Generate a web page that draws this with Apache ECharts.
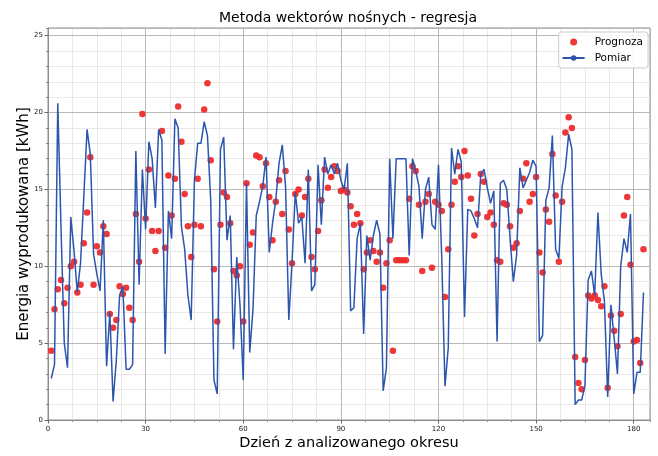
<!DOCTYPE html>
<html><head><meta charset="utf-8">
<script src="https://cdn.jsdelivr.net/npm/echarts@6/dist/echarts.min.js"></script>
<style>html,body{margin:0;padding:0;background:#fff}#c{width:658px;height:456px}</style>
</head><body><div id="c"></div>
<script>
// Day numbers run 1..N (index + 1)
const prognoza = [
 4.5,7.2,8.5,9.1,7.6,8.6,10.0,10.3,8.3,8.8,
 11.5,13.5,17.1,8.8,11.3,10.9,12.6,12.1,6.9,6.0,
 6.5,8.7,8.2,8.6,7.3,6.5,13.4,10.3,19.9,13.1,
 16.3,12.3,11.0,12.3,18.8,11.2,15.9,13.3,15.7,20.4,
 18.1,14.7,12.6,10.6,12.7,15.7,12.6,20.2,21.9,16.9,
 9.8,6.4,12.7,14.8,14.5,12.8,9.7,9.4,10.0,6.4,
 15.4,11.4,12.2,17.2,17.1,15.2,16.7,14.5,11.7,14.2,
 15.6,13.4,16.2,12.4,10.2,14.7,15.0,13.3,14.5,15.7,
 10.6,9.8,12.3,14.3,16.3,15.1,15.8,16.5,16.2,14.9,
 15.0,14.8,13.9,12.7,13.4,12.8,9.8,10.9,11.7,11.0,
 10.3,10.9,8.6,10.2,11.7,4.5,10.4,10.4,10.4,10.4,
 14.4,16.5,16.2,14.0,9.7,14.2,14.7,9.9,14.2,14.0,
 13.6,8.0,11.1,14.0,15.5,16.5,15.8,17.5,15.9,14.4,
 12.0,13.4,16.0,15.5,13.2,13.5,12.7,10.4,10.3,14.1,
 14.0,12.6,11.2,11.5,13.6,15.7,16.7,14.2,14.7,15.8,
 10.9,9.6,13.7,12.9,17.3,14.6,10.3,14.2,18.7,19.7,
 19.0,4.1,2.4,2.0,3.9,8.1,7.9,8.1,7.8,7.4,
 8.7,2.1,6.8,5.8,4.8,6.9,13.3,14.5,10.1,5.1,
 5.2,3.7,11.1
];
const pomiar = [
 2.7,3.6,20.6,12.5,5.0,3.4,13.2,11.0,8.3,10.2,
 14.5,18.9,17.3,10.8,9.5,8.4,13.0,3.5,7.0,1.2,
 3.9,8.1,8.7,3.3,3.3,3.6,17.5,8.8,16.3,12.4,
 18.1,17.0,13.8,18.9,18.2,4.3,13.6,11.8,19.6,19.0,
 12.6,11.1,8.1,6.5,15.6,18.0,18.0,19.4,18.5,14.3,
 2.6,1.7,17.6,18.4,11.7,13.3,4.6,10.6,7.5,2.6,
 15.4,4.4,7.2,13.3,14.2,15.2,17.1,10.9,12.8,14.3,
 16.7,17.9,15.2,6.5,10.3,14.8,12.8,13.2,10.2,16.3,
 8.4,8.8,16.6,12.7,17.1,16.0,16.6,16.0,16.7,15.6,
 15.0,16.7,7.1,7.3,11.8,12.8,5.6,12.0,10.4,12.0,
 13.0,12.1,1.9,3.4,17.0,11.8,17.0,17.0,17.0,17.0,
 10.7,17.0,16.2,15.2,11.8,15.0,15.8,12.7,12.4,16.6,
 10.6,2.2,4.7,17.7,16.0,17.6,16.8,6.7,13.7,13.6,
 13.1,12.5,16.0,16.3,15.1,14.1,14.9,5.1,15.4,15.6,
 15.0,11.8,9.0,10.7,16.4,15.1,15.6,16.1,16.9,16.5,
 5.1,5.5,14.3,15.1,18.5,11.1,10.5,15.2,16.4,18.6,
 17.6,1.0,1.3,1.3,2.2,9.1,9.7,8.1,13.5,9.5,
 7.7,1.5,7.5,5.3,3.0,10.0,11.8,10.9,13.4,1.7,
 3.1,3.1,8.3
];
const xTickStep = 30, xMinorStep = 7.5;
const yTickStep = 5, yMinorStep = 1;
const xMax = 185, yMax = 25.5;

const FONT = 'DejaVu Sans';
const chart = echarts.init(document.getElementById('c'), null, {renderer: 'canvas'});
const gridLine = '#b8b8b8', minorLine = '#e8e8e8', frame = '#8c8c8c';

chart.setOption({
  animation: false,
  backgroundColor: '#fff',
  title: {
    text: 'Metoda wektorów nośnych - regresja',
    left: 214, top: 6,
    textStyle: {fontFamily: FONT, fontSize: 14, fontWeight: 'normal', color: '#000'}
  },
  legend: {
    orient: 'vertical', right: 10, top: 32,
    padding: [3, 5, 3, 3],
    itemWidth: 22, itemHeight: 7, itemGap: 2,
    backgroundColor: 'rgba(255,255,255,0.85)',
    borderColor: '#cccccc', borderWidth: 1, borderRadius: 3,
    textStyle: {fontFamily: FONT, fontSize: 10.5, color: '#000', lineHeight: 14, padding: [0,0,0,5]},
    data: ['Prognoza', 'Pomiar'], z: 10
  },
  grid: {left: 48, right: 8, top: 28, bottom: 31, show: true, borderColor: frame, borderWidth: 1, backgroundColor: 'transparent'},
  xAxis: [{
    type: 'value', min: 0, max: xMax, interval: xTickStep, z: 1,
    name: 'Dzień z analizowanego okresu', nameLocation: 'middle', nameGap: 16, nameMoveOverlap: false,
    nameTextStyle: {fontFamily: FONT, fontSize: 14.5, color: '#000'},
    axisLine: {show: true, lineStyle: {color: frame}},
    axisTick: {show: true, length: 3.5, lineStyle: {color: '#666'}},
    axisLabel: {fontFamily: FONT, fontSize: 7, color: '#222', margin: 6, showMaxLabel: false},
    splitLine: {show: true, lineStyle: {color: gridLine, width: 1}}
  }, {
    type: 'value', min: 0, max: xMax, interval: xMinorStep, position: 'bottom', z: 0,
    axisLine: {show: false}, axisLabel: {show: false},
    axisTick: {show: true, length: 2, lineStyle: {color: '#888'}},
    splitLine: {show: true, lineStyle: {color: minorLine, width: 1}}
  }],
  yAxis: [{
    type: 'value', min: 0, max: yMax, interval: yTickStep, z: 1,
    name: 'Energia wyprodukowana [kWh]', nameLocation: 'middle', nameGap: 16, nameMoveOverlap: false,
    nameTextStyle: {fontFamily: FONT, fontSize: 15, color: '#000'},
    axisLine: {show: true, lineStyle: {color: frame}},
    axisTick: {show: true, length: 3.5, lineStyle: {color: '#666'}},
    axisLabel: {fontFamily: FONT, fontSize: 7, color: '#222', margin: 5, showMaxLabel: false},
    splitLine: {show: true, lineStyle: {color: gridLine, width: 1}}
  }, {
    type: 'value', min: 0, max: yMax, interval: yMinorStep, position: 'left', z: 0,
    axisLine: {show: false}, axisLabel: {show: false},
    axisTick: {show: true, length: 2, lineStyle: {color: '#888'}},
    splitLine: {show: true, lineStyle: {color: minorLine, width: 1}}
  }],
  series: [{
    name: 'Prognoza', type: 'scatter', xAxisIndex: 0, yAxisIndex: 0,
    symbol: 'circle', symbolSize: 6.5, z: 2,
    itemStyle: {color: '#ee2c2c', opacity: 0.95},
    data: prognoza.map((v, i) => [i + 1, v])
  }, {
    name: 'Pomiar', type: 'line', xAxisIndex: 0, yAxisIndex: 0,
    symbol: 'none', z: 3,
    lineStyle: {color: '#2c56ad', width: 1.5},
    itemStyle: {color: '#2c56ad'},
    data: pomiar.map((v, i) => [i + 1, v])
  }]
});
</script>
</body></html>
